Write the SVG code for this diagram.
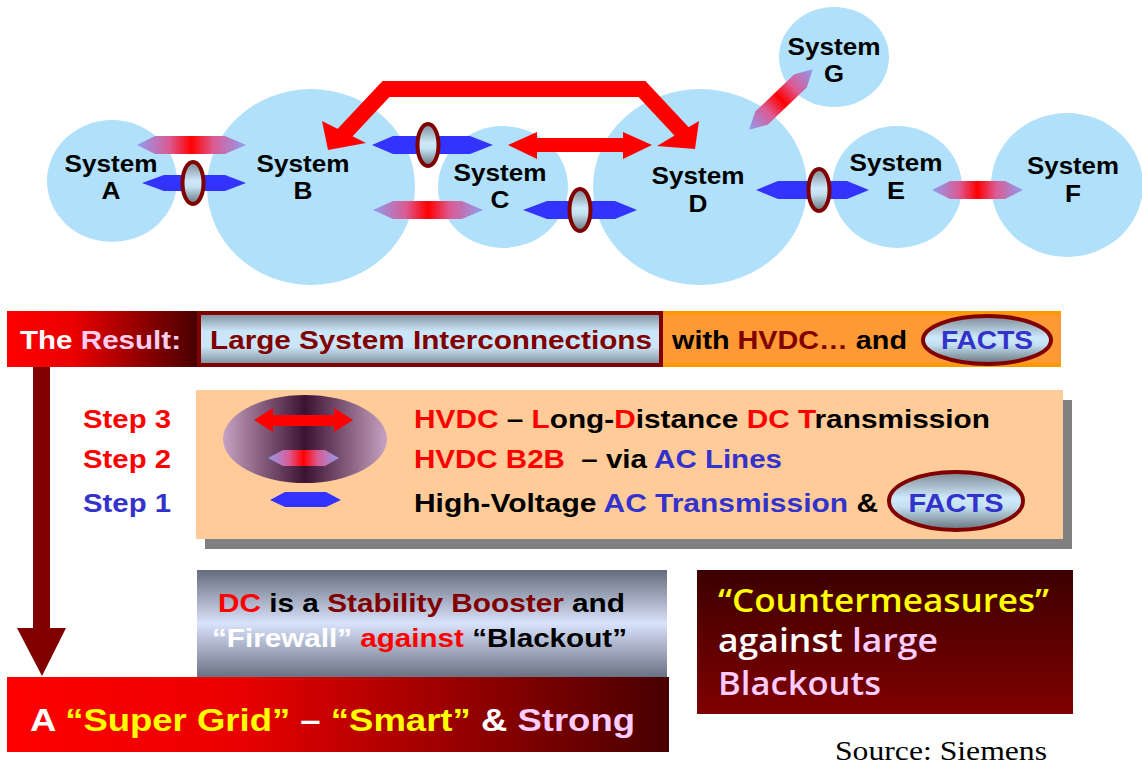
<svg xmlns="http://www.w3.org/2000/svg" width="1142" height="765" viewBox="0 0 1142 765">
<defs>
<style>
.b{font-family:"Liberation Sans",Arial,Helvetica,sans-serif;font-weight:bold}
.os{font-family:"Open Sans","Noto Sans",sans-serif;font-weight:600;font-size:32px}
.sys{font-size:23px;fill:#000;text-anchor:middle}
.t26{font-size:26px}
.cir{fill:#b0e0fa}
.ac{fill:#3333ff}
.b2b{fill:url(#gB2B)}
.fac{fill:url(#gOval);stroke:#800000;stroke-width:4}
.red{fill:#ff0000}
.dr{fill:#800000}
.bl{fill:#3333cc}
.k{fill:#000000}
.w{fill:#ffffff}
.y{fill:#ffff00}
.pk{fill:#ffccff}
</style>
<linearGradient id="gB2B" x1="0" y1="0" x2="1" y2="0">
<stop offset="0" stop-color="#8f9cf0"/>
<stop offset="0.3" stop-color="#dc5a92"/>
<stop offset="0.5" stop-color="#ff0000"/>
<stop offset="0.7" stop-color="#dc5a92"/>
<stop offset="1" stop-color="#8f9cf0"/>
</linearGradient>
<linearGradient id="gOval" x1="0" y1="0" x2="0" y2="1">
<stop offset="0" stop-color="#7d8a94"/>
<stop offset="0.45" stop-color="#cde9fb"/>
<stop offset="0.6" stop-color="#c4e0f0"/>
<stop offset="1" stop-color="#66737c"/>
</linearGradient>
<linearGradient id="gSteel" x1="0" y1="0" x2="0" y2="1">
<stop offset="0" stop-color="#7d8c98"/>
<stop offset="0.35" stop-color="#cae6f8"/>
<stop offset="0.65" stop-color="#cae6f8"/>
<stop offset="1" stop-color="#7d8c98"/>
</linearGradient>
<linearGradient id="gRed" x1="0" y1="0" x2="1" y2="0">
<stop offset="0" stop-color="#ff0000"/>
<stop offset="0.35" stop-color="#ea0000"/>
<stop offset="1" stop-color="#480000"/>
</linearGradient>
<linearGradient id="gGray" x1="0" y1="0" x2="0" y2="1">
<stop offset="0" stop-color="#646b7b"/>
<stop offset="0.5" stop-color="#d9e2fb"/>
<stop offset="1" stop-color="#6a7284"/>
</linearGradient>
<linearGradient id="gDark" x1="0" y1="0" x2="0" y2="1">
<stop offset="0" stop-color="#3c0000"/>
<stop offset="1" stop-color="#800000"/>
</linearGradient>
<linearGradient id="gMauve" x1="0" y1="0" x2="1" y2="0">
<stop offset="0" stop-color="#c8a2c2"/>
<stop offset="0.5" stop-color="#3b1232"/>
<stop offset="1" stop-color="#c8a2c2"/>
</linearGradient>
</defs>

<g id="sysA"><ellipse class="cir" cx="112" cy="181" rx="65" ry="61"/><text class="b sys" x="111" y="172" textLength="93" lengthAdjust="spacingAndGlyphs">System</text><text class="b sys" x="111" y="199" textLength="19" lengthAdjust="spacingAndGlyphs">A</text></g>
<g id="sysB"><ellipse class="cir" cx="311" cy="187" rx="104" ry="98"/><text class="b sys" x="303" y="172" textLength="93" lengthAdjust="spacingAndGlyphs">System</text><text class="b sys" x="303" y="199" textLength="19" lengthAdjust="spacingAndGlyphs">B</text></g>
<g id="sysC"><ellipse class="cir" cx="503" cy="187" rx="65" ry="61"/><text class="b sys" x="500" y="181" textLength="93" lengthAdjust="spacingAndGlyphs">System</text><text class="b sys" x="500" y="208" textLength="19" lengthAdjust="spacingAndGlyphs">C</text></g>
<g id="sysD"><ellipse class="cir" cx="700" cy="187" rx="107" ry="98"/><text class="b sys" x="698" y="184" textLength="93" lengthAdjust="spacingAndGlyphs">System</text><text class="b sys" x="698" y="212" textLength="19" lengthAdjust="spacingAndGlyphs">D</text></g>
<g id="sysE"><ellipse class="cir" cx="897" cy="187" rx="65" ry="61"/><text class="b sys" x="896" y="171" textLength="93" lengthAdjust="spacingAndGlyphs">System</text><text class="b sys" x="896" y="199" textLength="18" lengthAdjust="spacingAndGlyphs">E</text></g>
<g id="sysF"><ellipse class="cir" cx="1067" cy="185" rx="76" ry="72"/><text class="b sys" x="1073" y="174" textLength="92" lengthAdjust="spacingAndGlyphs">System</text><text class="b sys" x="1073" y="202" textLength="16" lengthAdjust="spacingAndGlyphs">F</text></g>
<g id="sysG"><ellipse class="cir" cx="834" cy="57" rx="55" ry="50"/><text class="b sys" x="834" y="55" textLength="93" lengthAdjust="spacingAndGlyphs">System</text><text class="b sys" x="834" y="82" textLength="20" lengthAdjust="spacingAndGlyphs">G</text></g>

<g id="connectors">
<polygon class="b2b" points="137,145 155,136 225,136 246,145 225,154 155,154"/>
<polygon class="ac" points="142,183 164,175 225,175 246,183 225,191 164,191"/>
<ellipse class="fac" cx="193" cy="183" rx="10.5" ry="21"/>
<polygon class="ac" points="372,145 393,136 470,136 493,145 470,154 393,154"/>
<ellipse class="fac" cx="428" cy="145" rx="10.5" ry="21"/>
<polygon class="b2b" points="373,210 393,201 462,201 483,210 462,219 393,219"/>
<polygon class="red" points="508,145 537,132 537,138 623,138 623,132 652,145 623,159 623,152 537,152 537,159"/>
<polygon class="ac" points="523,210 547,201 615,201 637,210 615,219 547,219"/>
<ellipse class="fac" cx="580" cy="210" rx="10.5" ry="21"/>
<polygon class="ac" points="756,190 778,181 847,181 869,190 847,199 778,199"/>
<ellipse class="fac" cx="819" cy="190" rx="10.5" ry="21"/>
<polygon class="b2b" points="932,190 950,181 1005,181 1023,190 1005,199 950,199"/>
<polygon class="b2b" transform="translate(781 99.5) rotate(-43.6)" points="-44,0 -27,-9 27,-9 44,0 27,9 -27,9"/>
<polyline points="340,138 386,89 642,89 684,134" fill="none" stroke="#ff0000" stroke-width="16" stroke-linejoin="miter"/>
<polygon class="red" points="322,121 366,143 328,150"/>
<polygon class="red" points="699,121 695,149 657,146"/>
</g>

<g id="resultBar">
<rect x="7" y="311" width="190" height="56" fill="url(#gRed)"/>
<text class="b t26" x="20" y="349" textLength="161" lengthAdjust="spacingAndGlyphs"><tspan class="w">The </tspan><tspan fill="#ffccee">Result:</tspan></text>
<rect x="663" y="311" width="398" height="56" fill="#ff9933"/>
<rect x="663" y="311" width="398" height="4" fill="#ff9900"/>
<rect x="663" y="363" width="398" height="4" fill="#ff9900"/>
<rect x="199" y="313" width="462" height="52" fill="url(#gSteel)" stroke="#800000" stroke-width="4"/>
<text class="b t26 dr" x="210" y="349" textLength="442" lengthAdjust="spacingAndGlyphs">Large System Interconnections</text>
<text class="b t26 k" x="672" y="349" textLength="235" lengthAdjust="spacingAndGlyphs"><tspan class="k">with </tspan><tspan class="dr">HVDC…</tspan><tspan class="k"> and</tspan></text>
<ellipse class="fac" cx="987" cy="340" rx="64" ry="24"/>
<text class="b t26 bl" x="987" y="349" text-anchor="middle" textLength="92" lengthAdjust="spacingAndGlyphs">FACTS</text>
</g>

<g id="downArrow">
<rect x="33" y="367" width="17" height="262" fill="#800000"/>
<polygon points="17,628 66,628 42,676" fill="#800000"/>
</g>

<g id="steps">
<rect x="205" y="400" width="867" height="149" fill="#808080"/>
<rect x="196" y="390" width="867" height="149" fill="#ffcc99"/>
<ellipse cx="305" cy="439" rx="82" ry="44" fill="url(#gMauve)"/>
<polygon class="red" points="254,420 273,408 273,415 334,415 334,408 353,420 334,432 334,426 273,426 273,432"/>
<polygon class="b2b" points="268,458 283,450 325,450 339,458 325,466 283,466"/>
<polygon class="ac" points="270,500 285,492 326,492 341,500 326,507 285,507"/>
<text class="b t26 red" x="83" y="428" textLength="88" lengthAdjust="spacingAndGlyphs">Step 3</text>
<text class="b t26 red" x="83" y="468" textLength="88" lengthAdjust="spacingAndGlyphs">Step 2</text>
<text class="b t26 bl" x="83" y="512" textLength="88" lengthAdjust="spacingAndGlyphs">Step 1</text>
<text class="b t26 k" x="414" y="428" textLength="576" lengthAdjust="spacingAndGlyphs"><tspan class="red">HVDC</tspan><tspan class="k"> – </tspan><tspan class="red">L</tspan><tspan class="k">ong-</tspan><tspan class="red">D</tspan><tspan class="k">istance </tspan><tspan class="red">DC T</tspan><tspan class="k">ransmission</tspan></text>
<text class="b t26 k" x="414" y="468" textLength="368" lengthAdjust="spacingAndGlyphs"><tspan class="red">HVDC B2B</tspan><tspan class="k">&#160; – via </tspan><tspan class="bl">AC Lines</tspan></text>
<text class="b t26 k" x="414" y="512" textLength="464" lengthAdjust="spacingAndGlyphs"><tspan class="k">High-Voltage </tspan><tspan class="bl">AC Transmission</tspan><tspan class="k"> &amp;</tspan></text>
<ellipse class="fac" cx="956" cy="501" rx="67" ry="29"/>
<text class="b t26 bl" x="956" y="512" text-anchor="middle" textLength="95" lengthAdjust="spacingAndGlyphs">FACTS</text>
</g>

<g id="dcBooster">
<rect x="197" y="570" width="470" height="107" fill="url(#gGray)"/>
<text class="b t26 k" x="218" y="612" textLength="407" lengthAdjust="spacingAndGlyphs"><tspan class="red">DC</tspan><tspan class="k"> is a </tspan><tspan class="dr">Stability Booster</tspan><tspan class="k"> and</tspan></text>
<text class="b t26 k" x="212" y="647" textLength="415" lengthAdjust="spacingAndGlyphs"><tspan class="w">“Firewall”</tspan><tspan class="red"> against </tspan><tspan class="k">“Blackout”</tspan></text>
</g>

<g id="superGrid">
<rect x="7" y="677" width="662" height="75" fill="url(#gRed)"/>
<text class="b w" font-size="32" x="30" y="731" textLength="605" lengthAdjust="spacingAndGlyphs"><tspan class="w">A </tspan><tspan class="y">“Super Grid”</tspan><tspan class="w"> – </tspan><tspan class="y">“Smart”</tspan><tspan class="w"> &amp; </tspan><tspan class="pk">Strong</tspan></text>
</g>

<g id="countermeasures">
<rect x="697" y="570" width="376" height="144" fill="url(#gDark)"/>
<text class="os y" x="718" y="612" textLength="331" lengthAdjust="spacingAndGlyphs">“Countermeasures”</text>
<text class="os w" x="718" y="652" textLength="220" lengthAdjust="spacingAndGlyphs"><tspan class="w">against </tspan><tspan class="pk">large</tspan></text>
<text class="os pk" x="718" y="695" textLength="163" lengthAdjust="spacingAndGlyphs">Blackouts</text>
</g>

<text x="835" y="760" font-family="'Liberation Serif','Times New Roman',serif" font-size="27" fill="#000" textLength="212" lengthAdjust="spacingAndGlyphs">Source: Siemens</text>
</svg>
